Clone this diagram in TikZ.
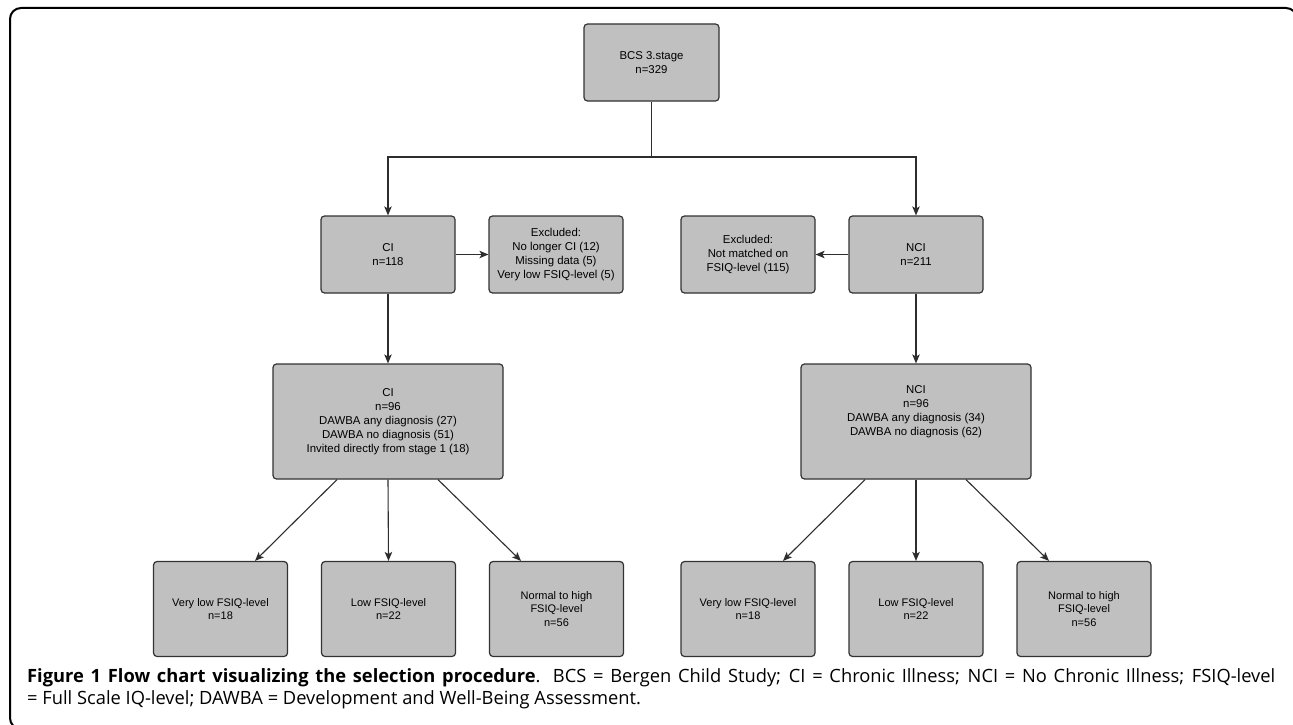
\documentclass[tikz,border=0pt]{standalone}
\usepackage{fontspec}
\setmainfont{Liberation Sans}
\newfontfamily\capfont{Open Sans}
\usetikzlibrary{arrows.meta}
\definecolor{boxfill}{RGB}{192,192,192}
\definecolor{boxline}{RGB}{50,50,50}
\definecolor{conn}{RGB}{45,45,45}
\tikzset{
  flowbox/.style={draw=boxline, line width=1.2pt, fill=boxfill, rounded corners=3.5pt,
    align=center, inner sep=0pt, font=\fontsize{11.4}{14}\selectfont},
  smallbox/.style={flowbox, minimum width=134pt, minimum height=77pt},
  bigbox/.style={flowbox, minimum width=230pt, minimum height=115pt},
  lowbox/.style={flowbox, minimum width=134pt, minimum height=95pt, font=\fontsize{11}{13.8}\selectfont},
  conline/.style={draw=conn, line width=1.1pt},
  arr/.style={conline, -{Stealth[length=9pt,width=7.5pt,inset=2.2pt]}},
  captext/.style={anchor=base west, inner sep=0pt, font=\capfont\fontsize{18.3}{22}\selectfont}
}
\begin{document}
\begin{tikzpicture}[x=1pt,y=-1pt]
\useasboundingbox (0,0) rectangle (1293,725);
\begin{scope}
\clip (0,0) rectangle (1293,725);
\draw[line width=2pt, rounded corners=11pt] (10,8) rectangle (1297,729);
\end{scope}

\node[smallbox, minimum width=135pt] (bcs) at (651.5,62.5) {BCS 3.stage\\n=329};
\node[smallbox] (ci) at (388,254.5) {CI\\n=118};
\node[smallbox] (excl) at (556,254.5) {Excluded:\\No longer CI (12)\\Missing data (5)\\Very low FSIQ-level (5)};
\node[smallbox] (excr) at (748,254.5) {Excluded:\\Not matched on\\FSIQ-level (115)};
\node[smallbox] (nci) at (916,254.5) {NCI\\n=211};
\node[bigbox] (ci96) at (388,421.5) {CI\\n=96\\DAWBA any diagnosis (27)\\DAWBA no diagnosis (51)\\Invited directly from stage 1 (18)};
\node[bigbox] (nci96) at (916,421.5) {NCI\\n=96\\DAWBA any diagnosis (34)\\DAWBA no diagnosis (62)\\[8pt]};

\node[lowbox] (vl1) at (220.5,609) {Very low FSIQ-level\\n=18};
\node[lowbox] (lo1) at (388.5,609) {Low FSIQ-level\\n=22};
\node[lowbox] (nh1) at (556.5,609) {Normal to high\\FSIQ-level\\n=56};
\node[lowbox] (vl2) at (748,609) {Very low FSIQ-level\\n=18};
\node[lowbox] (lo2) at (916,609) {Low FSIQ-level\\n=22};
\node[lowbox] (nh2) at (1084,609) {Normal to high\\FSIQ-level\\n=56};

\coordinate (j) at (651.5,157);
\draw[conline] (bcs.south) -- (j);
\draw[arr] (j) -| (ci.north);
\draw[arr] (j) -| (nci.north);
\draw[arr] (ci.east) -- (excl.west);
\draw[arr] (nci.west) -- (excr.east);
\draw[arr] (ci.south) -- (ci96.north);
\draw[arr] (nci.south) -- (nci96.north);

\draw[arr] ([xshift=-51]ci96.south) -- ([xshift=34.5]vl1.north);
\draw[arr] (ci96.south) -- (lo1.north);
\draw[arr] ([xshift=50]ci96.south) -- ([xshift=-35.5]nh1.north);
\draw[arr] ([xshift=-51]nci96.south) -- ([xshift=35]vl2.north);
\draw[arr] (nci96.south) -- (lo2.north);
\draw[arr] ([xshift=50]nci96.south) -- ([xshift=-35]nh2.north);

\node[captext] (cap1) at (27,682) {\makebox[1248pt][s]{\textbf{Figure 1 Flow chart visualizing the selection procedure}. BCS = Bergen Child Study; CI = Chronic Illness; NCI = No Chronic Illness; FSIQ-level}};
\node[captext] (cap2) at (27,704) {= Full Scale IQ-level; DAWBA = Development and Well-Being Assessment.};
\end{tikzpicture}
\end{document}
